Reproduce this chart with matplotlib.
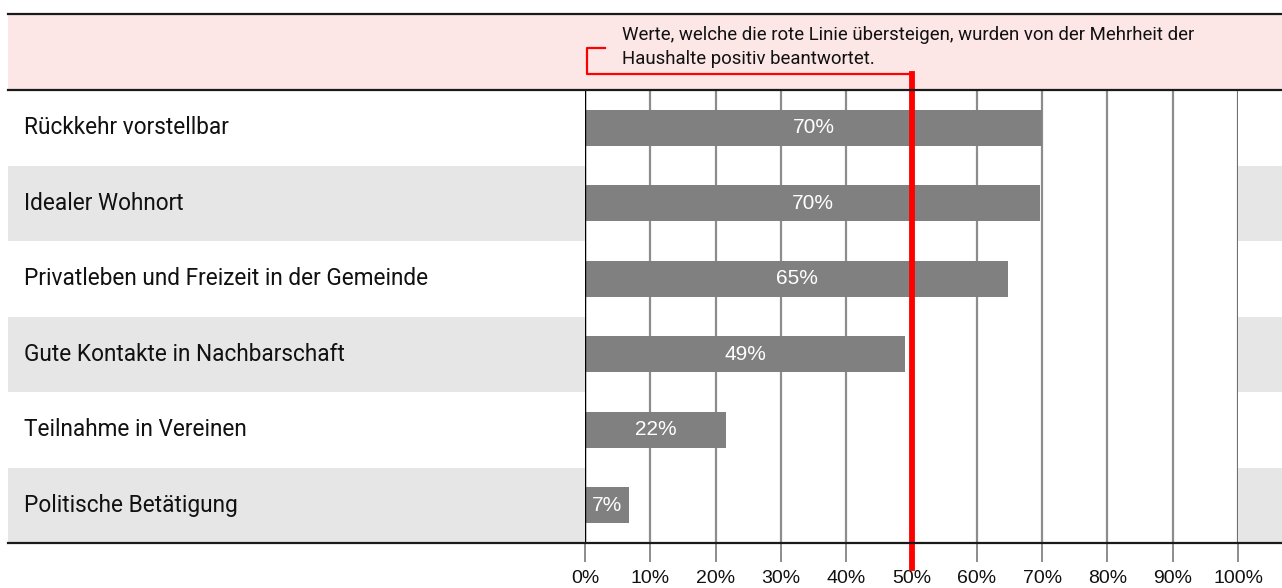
import matplotlib
matplotlib.use("Agg")
import matplotlib.pyplot as plt
from matplotlib.patches import Rectangle
from matplotlib.lines import Line2D
import matplotlib.transforms as mtransforms

# data
categories = [
    "Rückkehr vorstellbar",
    "Idealer Wohnort",
    "Privatleben und Freizeit in der Gemeinde",
    "Gute Kontakte in Nachbarschaft",
    "Teilnahme in Vereinen",
    "Politische Betätigung",
]
values = [70.0, 69.7, 64.8, 49.0, 21.6, 6.7]
labels = ["70%", "70%", "65%", "49%", "22%", "7%"]
ticks = list(range(0, 101, 10))
tick_labels = [f"{t}%" for t in ticks]
threshold = 50
note = ("Werte, welche die rote Linie übersteigen, wurden von der Mehrheit der\n"
        "Haushalte positiv beantwortet.")

W, H = 1282, 588
narrow = ["Liberation Sans Narrow", "Roboto", "DejaVu Sans"]
arial = ["Liberation Sans", "DejaVu Sans"]

def fx(px):
    return px / W

def fy(py):
    return 1 - py / H

fig = plt.figure(figsize=(W / 100, H / 100), dpi=100)

# header band
fig.add_artist(Rectangle((fx(8), fy(90)), 1 - fx(8), fy(14) - fy(90),
                         transform=fig.transFigure, facecolor="#fde6e6",
                         edgecolor="none", zorder=0))
for py in (14, 90, 543):
    fig.add_artist(Line2D([fx(8), 1], [fy(py), fy(py)], transform=fig.transFigure,
                          color="#1a1a1a", lw=1.6, zorder=5))

ax = fig.add_axes([fx(585), fy(543), fx(1238) - fx(585), fy(90) - fy(543)])
ax.set_xlim(0, 100)
ax.set_ylim(len(categories) - 0.5, -0.5)
for s in ax.spines.values():
    s.set_visible(False)
ax.set_facecolor("white")

# alternating row shading outside of the plot area
btf = mtransforms.blended_transform_factory(fig.transFigure, ax.transData)
for i, cat in enumerate(categories):
    if i % 2 == 1:
        for x0, x1 in ((fx(8), fx(585)), (fx(1238), 1)):
            r = Rectangle((x0, i - 0.5), x1 - x0, 1, transform=btf,
                          facecolor="#e6e6e6", edgecolor="none", clip_on=False, zorder=0)
            ax.add_artist(r)
    ax.text(fx(24), i, cat, transform=btf, ha="left", va="center",
            fontsize=16.3, family=narrow, color="#111111")

ax.set_xticks(ticks)
ax.set_xticklabels(tick_labels, family=arial, fontsize=14, color="#111111")
ax.set_yticks([])
ax.tick_params(axis="x", length=13.5, width=1.4, color="#8c8c8c", pad=6)
ax.grid(axis="x", color="#8c8c8c", lw=1.6, zorder=1)
ax.set_axisbelow(True)

ax.barh(range(len(categories)), values, height=0.48, color="#808080", zorder=2)
for i, (v, lab) in enumerate(zip(values, labels)):
    ax.text(v / 2, i, lab, ha="center", va="center", color="white",
            fontsize=15, family=arial, zorder=3)

ax.axvline(0, color="black", lw=1, zorder=3)
ax.axvline(100, color="black", lw=1, zorder=3)

# red threshold line and bracket to the note
xtf = mtransforms.blended_transform_factory(ax.transData, fig.transFigure)
ax.add_line(Line2D([threshold, threshold], [fy(568), fy(74)], transform=xtf,
                   color="#ff0000", lw=4.2, clip_on=False, zorder=6))
ax.add_line(Line2D([threshold, 0.3, 0.3, 3.0], [fy(74), fy(74), fy(48), fy(48)],
                   transform=xtf, color="#ff0000", lw=1.6, clip_on=False, zorder=6))

fig.text(fx(622), fy(47), note, ha="left", va="center", fontsize=13.4,
         family=narrow, linespacing=1.4, color="#111111")

fig.savefig("out.png", dpi=100)
